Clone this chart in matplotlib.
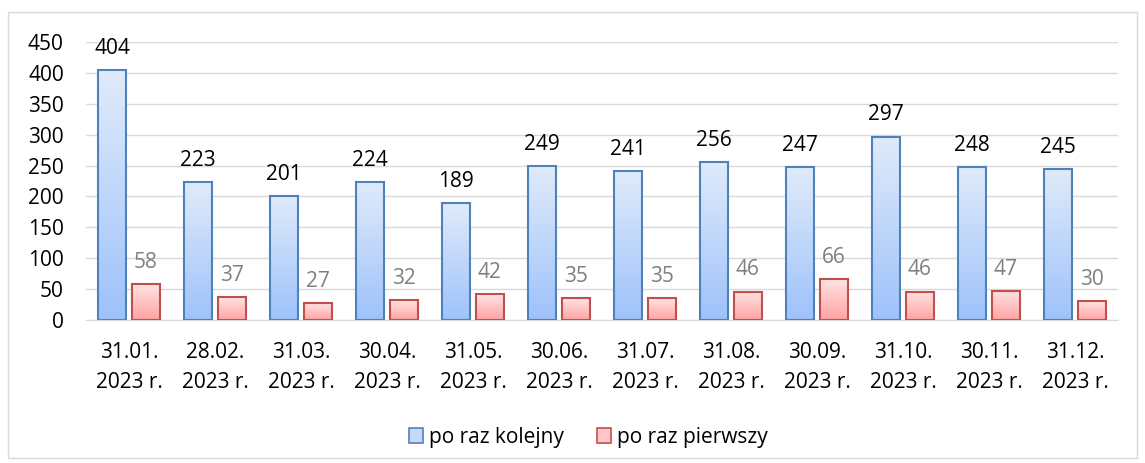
import numpy as np
import matplotlib
matplotlib.use("Agg")
import matplotlib.pyplot as plt
from matplotlib.patches import Rectangle

categories = ["31.01.\n2023 r.", "28.02.\n2023 r.", "31.03.\n2023 r.", "30.04.\n2023 r.",
              "31.05.\n2023 r.", "30.06.\n2023 r.", "31.07.\n2023 r.", "31.08.\n2023 r.",
              "30.09.\n2023 r.", "31.10.\n2023 r.", "30.11.\n2023 r.", "31.12.\n2023 r."]
kolejny = [404, 223, 201, 224, 189, 249, 241, 256, 247, 297, 248, 245]
pierwszy = [58, 37, 27, 32, 42, 35, 35, 46, 66, 46, 47, 30]
yticks = [0, 50, 100, 150, 200, 250, 300, 350, 400, 450]

plt.rcParams['font.family'] = ['Open Sans', 'DejaVu Sans']
FS = 15

fig = plt.figure(figsize=(11.45, 4.63), dpi=100)
ax = fig.add_axes([86/1145, 1 - 320/463, 1032/1145, 278/463])

# outer frame like the chart area border
fig.patches.append(Rectangle((8/1145, 1 - 458/463), 1129/1145, 446/463,
                             transform=fig.transFigure, fill=False,
                             edgecolor="#d9d9d9", linewidth=1))

x = np.arange(len(categories))
w = 0.32
gap = 0.035


def gradient_bars(bars, top_color, bottom_color):
    grad = np.linspace(0, 1, 256).reshape(-1, 1)
    cmap = matplotlib.colors.LinearSegmentedColormap.from_list("g", [bottom_color, top_color])
    for b in bars:
        x0, y0 = b.get_x(), b.get_y()
        im = ax.imshow(grad, cmap=cmap, origin="lower", aspect="auto",
                       extent=[x0, x0 + b.get_width(), y0, y0 + b.get_height()], zorder=2)
        im.set_clip_path(b)


b1 = ax.bar(x - w/2 - gap, kolejny, w, facecolor="none", edgecolor="#4f81bd",
            linewidth=1.5, zorder=3, label="po raz kolejny")
b2 = ax.bar(x + w/2 + gap, pierwszy, w, facecolor="none", edgecolor="#c0504d",
            linewidth=1.5, zorder=3, label="po raz pierwszy")
gradient_bars(b1, "#e0ebfb", "#9ec2fa")
gradient_bars(b2, "#ffe3e3", "#ffa3a3")

for b, v in zip(b1, kolejny):
    ax.annotate(str(v), (b.get_x() + b.get_width()/2, v), xytext=(0, 8),
                textcoords="offset points", ha="center", va="bottom", fontsize=FS, color="black")
for b, v in zip(b2, pierwszy):
    ax.annotate(str(v), (b.get_x() + b.get_width()/2, v), xytext=(0, 8),
                textcoords="offset points", ha="center", va="bottom", fontsize=FS, color="#7f7f7f")

ax.set_xlim(-0.5, len(categories) - 0.5)
ax.set_ylim(0, 450)
ax.set_yticks(yticks)
ax.set_xticks(x)
ax.set_xticklabels(categories, fontsize=FS, linespacing=1.55)
ax.tick_params(axis="both", length=0, labelsize=FS)
ax.tick_params(axis="x", pad=16)
ax.tick_params(axis="y", pad=16)
ax.grid(axis="y", color="#d9d9d9", linewidth=1, zorder=0)
ax.set_axisbelow(True)
for s in ["top", "right", "left"]:
    ax.spines[s].set_visible(False)
ax.spines["bottom"].set_color("#d9d9d9")

# legend with plain patches
h1 = Rectangle((0, 0), 1, 1, facecolor="#c6d9f7", edgecolor="#4f81bd", linewidth=1.2)
h2 = Rectangle((0, 0), 1, 1, facecolor="#ffc7c7", edgecolor="#c0504d", linewidth=1.2)
fig.legend([h1, h2], ["po raz kolejny", "po raz pierwszy"], loc="center",
           bbox_to_anchor=(588/1145, 1 - 437/463), ncol=2, frameon=False, fontsize=FS,
           handlelength=0.7, handleheight=0.7, handletextpad=0.25, columnspacing=1.6)

fig.savefig("out.png", dpi=100)
